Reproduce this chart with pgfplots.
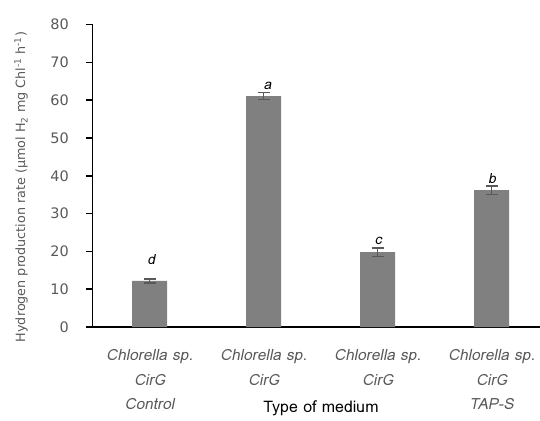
\documentclass[border=0pt]{standalone}
\usepackage{pgfplots}
\pgfplotsset{compat=1.18}
\usepackage{pgfplotstable}
\usepackage{fontspec}
\setmainfont{DejaVu Sans}
\newfontfamily\lomafont{Loma}
\newfontfamily\lomait{Loma}[FakeSlant=0.2]

\definecolor{barfill}{HTML}{808080}
\definecolor{errgray}{HTML}{595959}
\definecolor{labelgray}{HTML}{595959}

% mean hydrogen production rate and its standard error
\pgfplotstableread{
x y err
0 12.2 0.5
1 61.1 0.9
2 19.8 1.1
3 36.2 1.1
}\ratetable

\begin{document}
\begin{tikzpicture}
\useasboundingbox (0,0) rectangle (540bp,421bp);
\begin{axis}[
  at={(92.5bp,94bp)}, anchor=south west,
  scale only axis, width=456bp, height=302.4bp,
  xmin=-0.5, xmax=3.5, ymin=0, ymax=80,
  axis x line*=bottom, axis y line*=left,
  axis line style={line width=1.5bp, black},
  ytick={0,10,...,80},
  tick align=outside, major tick length=6.5bp,
  every tick/.style={line width=1.5bp, black},
  /pgf/number format/assume math mode=true,
  yticklabel style={font=\fontsize{14.5}{14.5}\selectfont, text=labelgray, anchor=east, inner sep=0pt, xshift=-17bp},
  xtick={0,1,2,3},
  x tick style={draw=none},
  xticklabels={{Chlorella sp.\\CirG\\Control},{Chlorella sp.\\CirG},{Chlorella sp.\\CirG},{Chlorella sp.\\CirG\\TAP-S}},
  xticklabel style={align=center, anchor=north, inner sep=0pt, yshift=-16bp, font=\lomait\fontsize{15.5}{24.5}\selectfont, text=labelgray},
  clip=false,
]
\addplot[ybar, bar width=35bp, fill=barfill, draw=none,
  error bars/.cd, y dir=both, y explicit,
  error bar style={line width=1.5bp, errgray},
  error mark options={rotate=90, mark size=6bp, line width=1.5bp, errgray}]
  table[x=x, y=y, y error=err]{\ratetable};
% significance letters
\node[font=\lomait\fontsize{14}{14}\selectfont] at (axis cs:0.015,17.8) {d};
\node[font=\lomait\fontsize{14}{14}\selectfont] at (axis cs:1.035,63.9) {a};
\node[font=\lomait\fontsize{14}{14}\selectfont] at (axis cs:2.005,22.9) {c};
\node[font=\lomait\fontsize{14}{14}\selectfont] at (axis cs:3.005,39.3) {b};
\end{axis}
\node[font=\lomafont\fontsize{16}{16}\selectfont] at (321bp,13bp) {Type of medium};
\node[rotate=90, font=\fontsize{12.8}{12.8}\selectfont, text=labelgray] at (21bp,234bp)
  {Hydrogen production rate (μmol H\textsubscript{2} mg Chl\textsuperscript{-1} h\textsuperscript{-1})};
\end{tikzpicture}
\end{document}
